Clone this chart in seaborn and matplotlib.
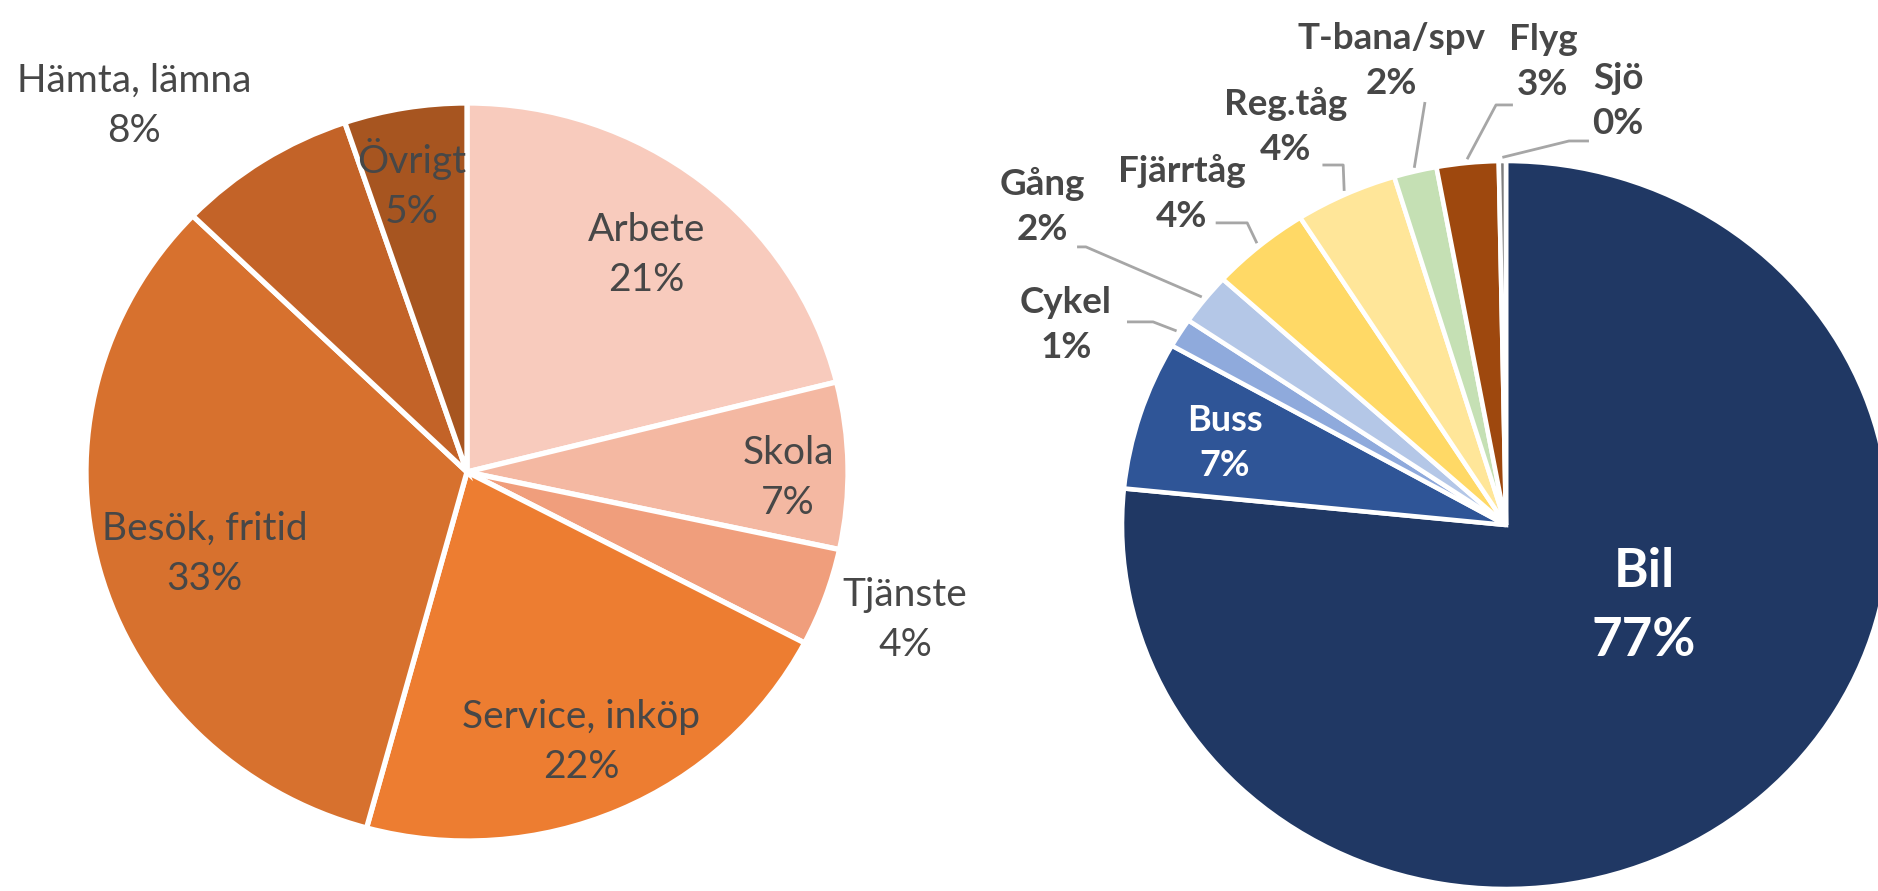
import numpy as np
import matplotlib
matplotlib.use("Agg")
import matplotlib.pyplot as plt
import seaborn as sns

# ---------------- data ----------------
purpose_labels = ["Arbete", "Skola", "Tjänste", "Service, inköp", "Besök, fritid", "Hämta, lämna", "Övrigt"]
purpose_values = [21.1, 7.3, 4.3, 21.6, 33.0, 7.6, 5.2]

mode_labels = ["Bil", "Buss", "Cykel", "Gång", "Fjärrtåg", "Reg.tåg", "T-bana/spv", "Flyg", "Sjö"]
mode_values = [76.6, 6.6, 1.3, 2.3, 4.2, 4.3, 1.8, 2.6, 0.3]

# ---------------- styles ----------------
purpose_colors = ["#F8CBBD", "#F4B8A2", "#F09E7C", "#ED7D31", "#D7712E", "#C36328", "#A75520"]
mode_colors = ["#203864", "#2F5597", "#8FAADC", "#B4C7E7", "#FFD966", "#FFE699", "#C5E0B4", "#9E480E", "#7F7F7F"]

sns.set_theme(style="white")
plt.rcParams["font.family"] = ["Lato", "DejaVu Sans"]

W, H = 1878, 891
fig = plt.figure(figsize=(W / 100, H / 100), dpi=100)
fig.patch.set_facecolor("white")

txt_col = "#474747"


def fit_axes(ax, left_px, width_px, cx_px, cy_px_top, rx_px, ry_px):
    ax.set_aspect("auto")
    ax.set_xlim(-(cx_px - left_px) / rx_px, (left_px + width_px - cx_px) / rx_px)
    cy_b = H - cy_px_top
    ax.set_ylim(-cy_b / ry_px, (H - cy_b) / ry_px)
    ax.axis("off")


# ---------------- left pie ----------------
axL = fig.add_axes([0, 0, 940 / W, 1])
pal_L = sns.color_palette(purpose_colors)
wedgesL, _ = axL.pie(purpose_values, colors=pal_L, startangle=90, counterclock=False,
                     radius=1.0, wedgeprops=dict(edgecolor="white", linewidth=3.8))
fit_axes(axL, 0, 940, 467, 472, 381, 369)

pos_L = [(0.470, 0.588), (0.843, -0.016), (1.150, -0.401), (0.300, -0.732),
         (-0.688, -0.222), (-0.874, 0.992), (-0.144, 0.780)]
totL = sum(purpose_values)
for lab, v, (x, y) in zip(purpose_labels, purpose_values, pos_L):
    axL.text(x, y, f"{lab}\n{v / totL * 100:.0f}%", ha="center", va="center",
             fontsize=28, color=txt_col, linespacing=1.48)

# ---------------- right pie ----------------
axR = fig.add_axes([940 / W, 0, 938 / W, 1])
pal_R = sns.color_palette(mode_colors)
wedgesR, _ = axR.pie(mode_values, colors=pal_R, startangle=90, counterclock=False,
                     radius=1.0, wedgeprops=dict(edgecolor="white", linewidth=3.3))
fit_axes(axR, 940, 938, 1506, 525, 384, 364)

pos_R = [(0.359, -0.223), (-0.732, 0.225), (-1.146, 0.549), (-1.208, 0.874),
         (-0.845, 0.912), (-0.575, 1.096), (-0.299, 1.275), (0.096, 1.272), (0.292, 1.165)]
# leader lines: (elbow, end) for outside labels, None for inside ones
leaders = [None, None,
           ((-0.919, 0.558), (-0.987, 0.558)),
           ((-1.094, 0.764), (-1.117, 0.764)),
           ((-0.674, 0.830), (-0.756, 0.830)),
           ((-0.424, 0.989), (-0.478, 0.989)),
           ((-0.211, 1.162), (-0.211, 1.162)),
           ((-0.026, 1.154), (0.018, 1.154)),
           ((0.164, 1.055), (0.216, 1.055))]

totR = sum(mode_values)
for i, (lab, v, (x, y)) in enumerate(zip(mode_labels, mode_values, pos_R)):
    pct = f"{v / totR * 100:.0f}%"
    if i == 0:
        axR.text(x, y, f"{lab}\n{pct}", ha="center", va="center", fontsize=38,
                 fontweight="bold", color="white", linespacing=1.5)
    elif i == 1:
        axR.text(x, y, f"{lab}\n{pct}", ha="center", va="center", fontsize=26,
                 fontweight="bold", color="white", linespacing=1.42)
    else:
        axR.text(x, y, f"{lab}\n{pct}", ha="center", va="center", fontsize=26.5,
                 fontweight="bold", color=txt_col, linespacing=1.45)
    if leaders[i] is not None:
        w = wedgesR[i]
        mid = np.deg2rad((w.theta1 + w.theta2) / 2)
        sx, sy = 1.01 * np.cos(mid), 1.01 * np.sin(mid)
        (ex, ey), (fx, fy) = leaders[i]
        axR.plot([sx, ex, fx], [sy, ey, fy], color="#A6A6A6", lw=2.0,
                 solid_capstyle="butt", clip_on=False)

fig.savefig("out.png", dpi=100, facecolor="white")
